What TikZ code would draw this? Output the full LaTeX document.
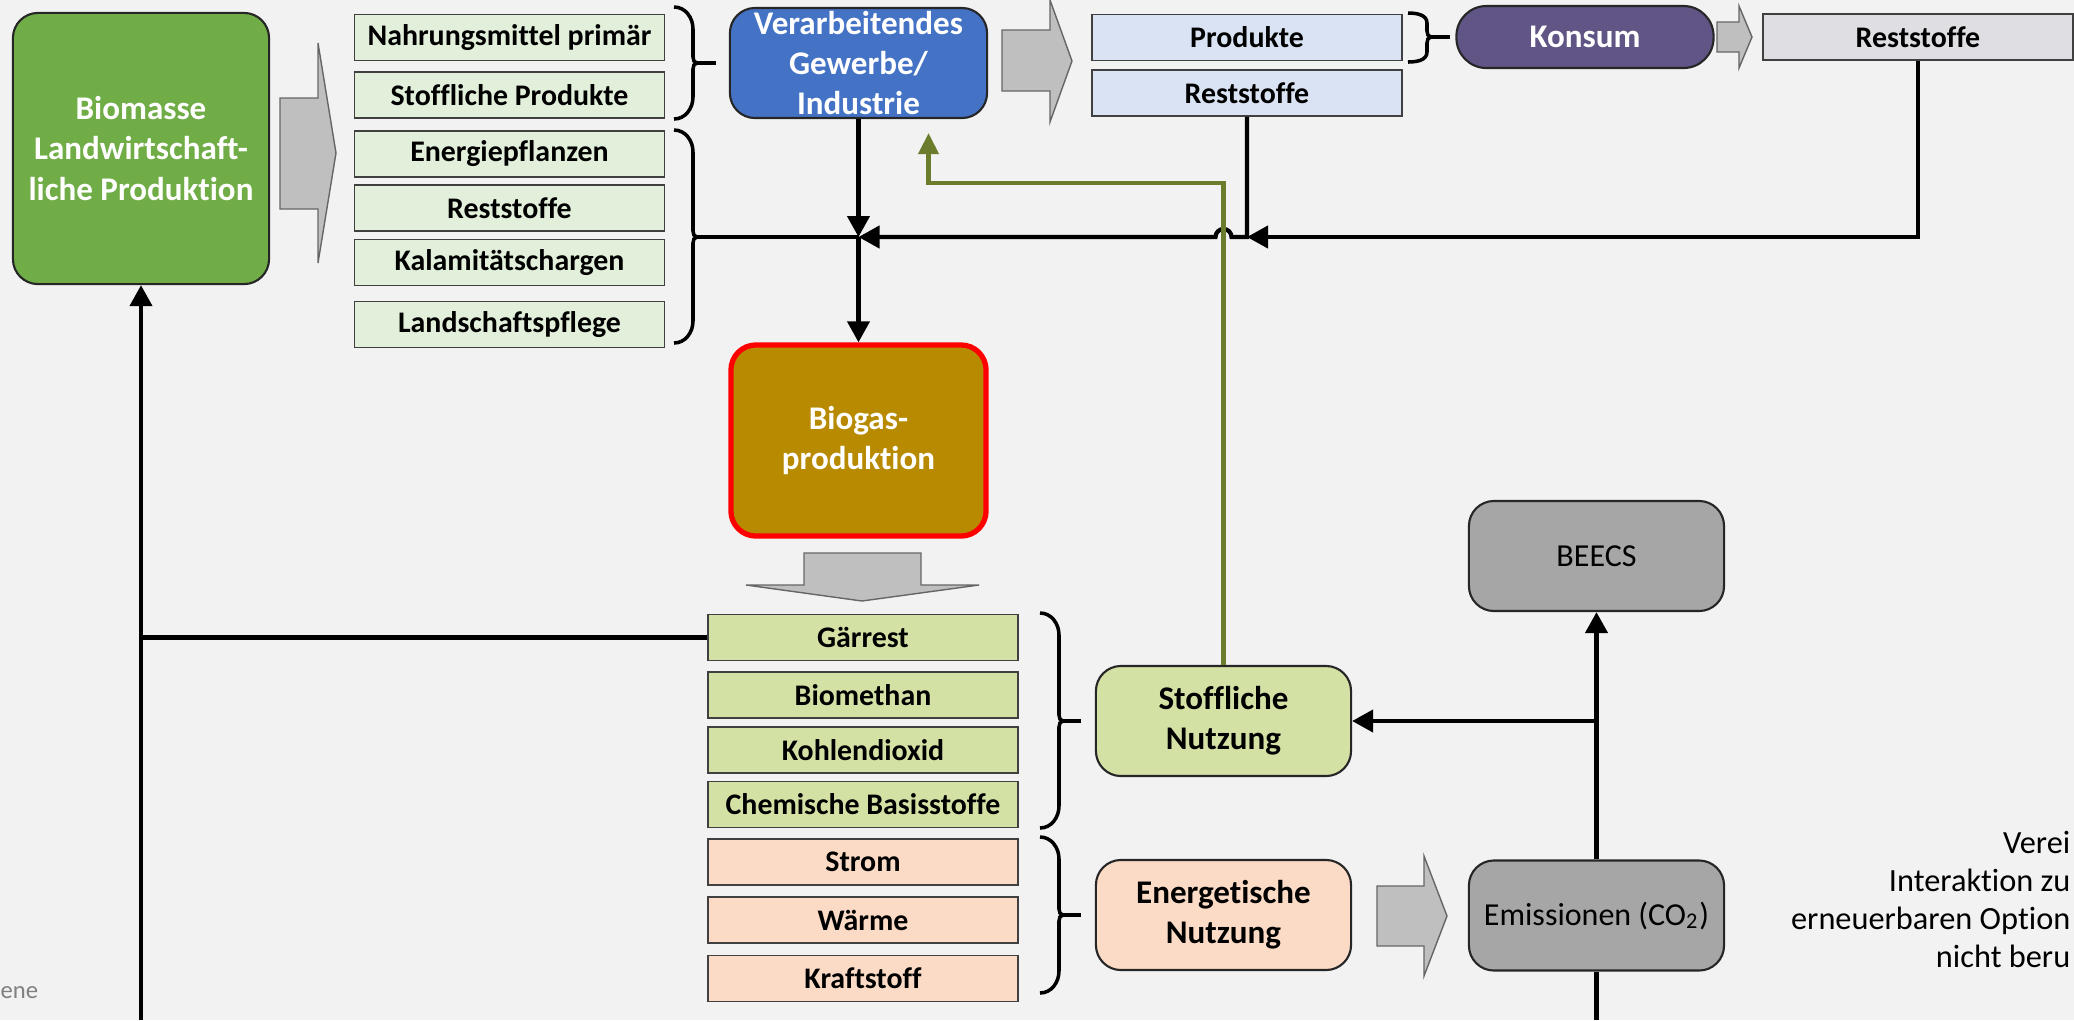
\documentclass[tikz,border=0pt]{standalone}
\usepackage{fontspec}
\setmainfont{Carlito}[Ligatures=NoCommon]
\usepackage{tikz}
\usetikzlibrary{arrows.meta,calc}
\definecolor{hgrund}{HTML}{F2F2F2}
\definecolor{gruen}{HTML}{70AD47}
\definecolor{hellgruen}{HTML}{E2EFDA}
\definecolor{blau}{HTML}{4472C4}
\definecolor{hellblau}{HTML}{DAE3F3}
\definecolor{lila}{HTML}{605585}
\definecolor{hellgrau}{HTML}{DFDFE3}
\definecolor{gold}{HTML}{B88A00}
\definecolor{olivhell}{HTML}{D4E1A5}
\definecolor{orangehell}{HTML}{FCDBC6}
\definecolor{grau}{HTML}{A6A6A6}
\definecolor{pfeilgrau}{HTML}{BFBFBF}
\definecolor{olivlinie}{HTML}{6B7C2C}

% geschweifte Klammer: x, oben, unten, spitze, radius, name
\newcommand{\klammer}[6]{%
  \draw[klammerlinie] (#1,#2) to[out=0,in=90] ++(19,#5) -- ({#1+19},{#4-6})
    to[out=-90,in=180] ({#1+23},#4) to[out=180,in=90] ({#1+19},{#4+6})
    -- ({#1+19},{#3-#5}) to[out=-90,in=0] (#1,#3);
  \coordinate (#6) at ({#1+23},#4);
}

\begin{document}
\begin{tikzpicture}[x=0.01cm,y=-0.01cm,
  every node/.style={inner sep=0pt},
  kasten/.style={draw=black!75,line width=0.5pt,minimum width=3.1cm,minimum height=0.46cm,
    font=\bfseries\fontsize{8.5}{10}\selectfont},
  rund/.style={draw=black!85,line width=0.6pt,rounded corners=0.25cm,align=center,
    minimum width=2.55cm,minimum height=1.1cm,font=\bfseries\fontsize{9.4}{11.4}\selectfont},
  linie/.style={line width=1.2pt},
  pfeil/.style={linie,-{Triangle[length=0.21cm,width=0.22cm]}},
  gpfeil/.style={line width=1.2pt,draw=olivlinie,-{Triangle[length=0.21cm,width=0.2cm]}},
  block/.style={fill=pfeilgrau,draw=black!60,line width=0.4pt},
  klammerlinie/.style={line width=1pt},
  randtext/.style={anchor=base east,font=\fontsize{9.2}{10}\selectfont}]
   \fill[hgrund] (0,0) rectangle (2074,1020);
   \useasboundingbox (0,0) rectangle (2074,1020);

   % obere Reihe
   \node[rund,fill=gruen,text=white,minimum width=2.56cm,minimum height=2.71cm] (bio) at (141,148.5) {Biomasse\\Landwirtschaft-\\liche Produktion};
   \draw[block] (280,98) -- (318,98) -- (318,43) -- (336,153) -- (318,263) -- (318,209) -- (280,209) -- cycle;

   \node[kasten,fill=hellgruen] (nahr) at (509.5,37.5) {Nahrungsmittel primär};
   \node[kasten,fill=hellgruen] (stprod) at (509.5,95) {Stoffliche Produkte};
   \node[kasten,fill=hellgruen] (epfl) at (509.5,154) {Energiepflanzen};
   \node[kasten,fill=hellgruen] (rest1) at (509.5,208) {Reststoffe};
   \node[kasten,fill=hellgruen] (kalam) at (509.5,262.5) {Kalamitätschargen};
   \node[kasten,fill=hellgruen] (lpfl) at (509.5,324.5) {Landschaftspflege};
   \klammer{674}{7}{119}{63}{22}{k1}
   \klammer{674}{130}{343}{237}{22}{k2}

   \node[rund,fill=blau,text=white,minimum width=2.57cm] (verarb) at (858.5,63) {Verarbeitendes\\Gewerbe/\\Industrie};
   \draw[block] (1002,30) -- (1050,30) -- (1050,0) -- (1072,61) -- (1050,122) -- (1050,91) -- (1002,91) -- cycle;

   \node[kasten,fill=hellblau] (prod) at (1247,37.5) {Produkte};
   \node[kasten,fill=hellblau] (rest2) at (1247,93) {Reststoffe};
   \klammer{1408}{13}{62}{37}{10}{k3}
   \node[rund,fill=lila,text=white,rounded corners=0.3cm,minimum width=2.57cm,minimum height=0.62cm] (konsum) at (1585,37) {Konsum};
   \draw[block] (1717,22) -- (1739,22) -- (1739,6) -- (1752,37) -- (1739,68) -- (1739,52) -- (1717,52) -- cycle;
   \node[kasten,fill=hellgrau] (rest3) at (1918,37) {Reststoffe};

   % Biogas
   \node[rund,fill=gold,draw=red,line width=1.5pt,text=white,minimum height=1.91cm] (biogas) at (858.5,440.5) {Biogas-\\produktion};
   \draw[block] (804,553) -- (921,553) -- (921,585) -- (979,585) -- (862,601) -- (746,585) -- (804,585) -- cycle;

   \node[kasten,fill=olivhell] (gaer) at (863,637.5) {Gärrest};
   \node[kasten,fill=olivhell] (bmeth) at (863,695) {Biomethan};
   \node[kasten,fill=olivhell] (kohl) at (863,750) {Kohlendioxid};
   \node[kasten,fill=olivhell] (chem) at (863,804.5) {Chemische Basisstoffe};
   \node[kasten,fill=orangehell] (strom) at (863,862) {Strom};
   \node[kasten,fill=orangehell] (waerme) at (863,920) {Wärme};
   \node[kasten,fill=orangehell] (kraft) at (863,978.5) {Kraftstoff};
   \klammer{1040}{613}{828}{721}{22}{k4}
   \klammer{1040}{837}{993}{915}{22}{k5}

   \node[rund,fill=olivhell] (stoff) at (1223.5,721) {Stoffliche\\Nutzung};
   \node[rund,fill=orangehell] (energ) at (1223.5,915) {Energetische\\Nutzung};
   \draw[block] (1377,886) -- (1424,886) -- (1424,856) -- (1447,916) -- (1424,976) -- (1424,946) -- (1377,946) -- cycle;
   \node[rund,fill=grau,font=\fontsize{9.1}{11}\selectfont] (emis) at (1596.5,915.5) {Emissionen (CO\textsubscript{2})};
   \node[rund,fill=grau,font=\fontsize{9.1}{11}\selectfont] (beecs) at (1596.5,556) {BEECS};

   % Verbindungen
   \coordinate (rand) at (0,1020);
   \coordinate (knoten) at (verarb.south |- k2);
   \draw[linie] (k1) -- ++(19,0);
   \draw[linie] (k3) -- ++(19,0);
   \draw[linie] (k4) -- ++(18,0);
   \draw[linie] (k5) -- ++(18,0);
   \draw[linie] (k2) -- (knoten);
   \draw[pfeil] (verarb.south) -- (knoten);
   \draw[pfeil] (knoten) -- (biogas.north);
   \draw[pfeil] (rest3.south) |- (rest2.south |- knoten);
   \draw[pfeil] (rest2.south) -- (rest2.south |- knoten) -- ([xshift=0.08cm]stoff.north |- knoten)
      arc[start angle=0,end angle=180,radius=0.08cm] -- (knoten);
   \draw[gpfeil] (stoff.north) -- ++(0,-482) -| ([xshift=0.7cm,yshift=-0.14cm]verarb.south);
   \draw[pfeil] (bio.south |- rand) -- (bio.south);
   \draw[linie] (gaer.west) -- (gaer.west -| bio.south);
   \draw[pfeil] (emis.north) -- (beecs.south);
   \draw[pfeil] (emis.north |- stoff.east) -- (stoff.east);
   \draw[linie] (emis.south) -- (emis.south |- rand);

   % Randtexte
   \node[randtext] (t1) at (2071,853) {Verei};
   \node[randtext] (t2) at (2071,891) {Interaktion zu};
   \node[randtext] (t3) at (2071,929) {erneuerbaren Option};
   \node[randtext] (t4) at (2071,967) {nicht beru};
   \node[anchor=west,text=black!50,font=\fontsize{7}{8}\selectfont] (t5) at (0,993) {ene};
   %\node at (1037,1000) {};
\end{tikzpicture}
\end{document}
